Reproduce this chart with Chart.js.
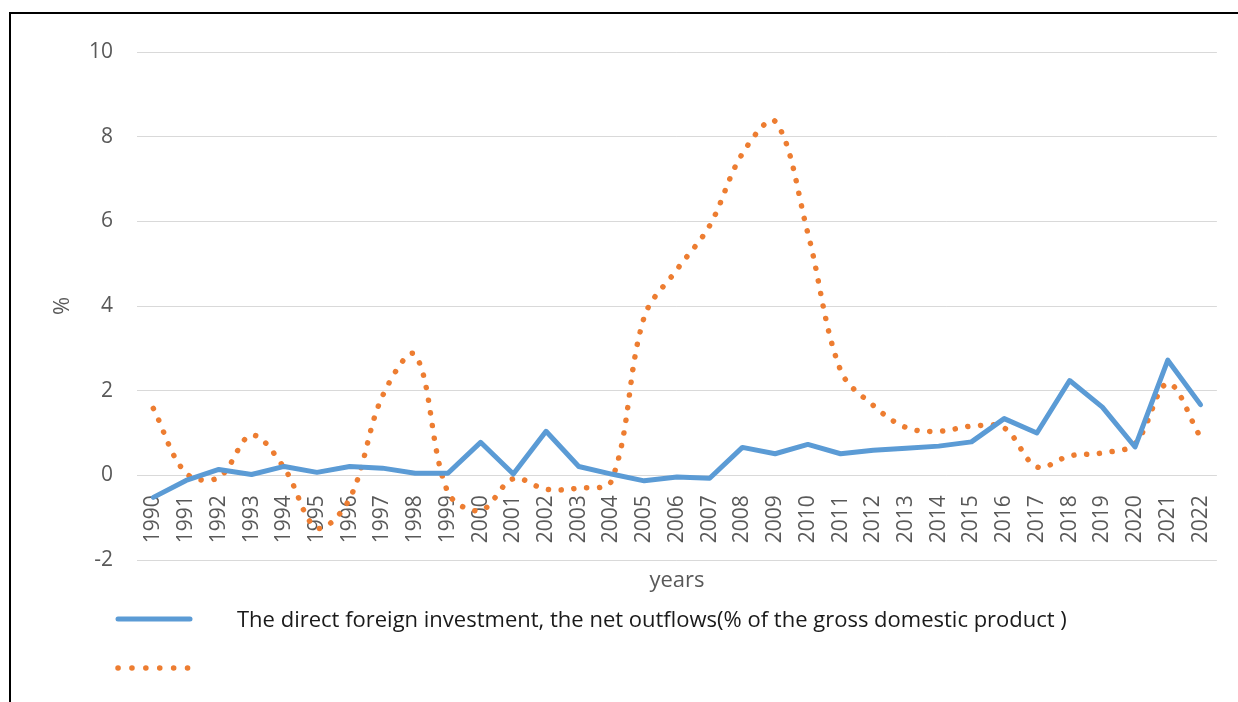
<!DOCTYPE html>
<html>
<head>
<meta charset="utf-8">
<script src="https://cdn.jsdelivr.net/npm/chart.js@4.4.1/dist/chart.umd.min.js"></script>
<style>
  html, body { margin: 0; padding: 0; background: #fff; }
  #wrap { position: relative; width: 1238px; height: 702px; overflow: hidden; }
  #frame { position: absolute; left: 9px; top: 12px; right: -4px; bottom: -4px;
           border-top: 2px solid #000; border-left: 2px solid #000; pointer-events: none; }
  canvas { display: block; }
</style>
</head>
<body>
<div id="wrap">
  <canvas id="c" width="1238" height="702"></canvas>
  <div id="frame"></div>
</div>
<script>
// Years on the category axis
const years = ['1990','1991','1992','1993','1994','1995','1996','1997','1998','1999',
               '2000','2001','2002','2003','2004','2005','2006','2007','2008','2009',
               '2010','2011','2012','2013','2014','2015','2016','2017','2018','2019',
               '2020','2021','2022'];

// FDI net outflows, % of GDP
const fdiOutflows = [-0.52, -0.12, 0.14, 0.02, 0.21, 0.07, 0.21, 0.17, 0.05, 0.05,
                     0.78, 0.03, 1.04, 0.21, 0.03, -0.13, -0.04, -0.07, 0.66, 0.51,
                     0.73, 0.51, 0.59, 0.64, 0.69, 0.79, 1.34, 1.00, 2.24, 1.61,
                     0.67, 2.72, 1.67];

// Second (unlabelled) series, %
const secondSeries = [1.58, 0.05, -0.05, 0.95, 0.17, -1.24, -0.55, 1.87, 2.85, -0.40,
                      -0.83, -0.08, -0.33, -0.30, -0.13, 3.74, 4.86, 5.90, 7.60, 8.36,
                      5.72, 2.48, 1.65, 1.13, 1.04, 1.16, 1.12, 0.20, 0.46, 0.53,
                      0.75, 2.17, 0.90];

const seriesLabels = ['The direct foreign investment, the net outflows(% of the gross domestic product )', ''];

// Y axis range and step
const yMin = -2, yMax = 10, yStep = 2;

const axisGrey = '#595959';

// Legend drawn as stacked rows below the plot
const rowLegend = {
  id: 'rowLegend',
  afterDraw(chart) {
    const ctx = chart.ctx;
    chart.data.datasets.forEach((ds, i) => {
      const y = 619 + i * 49;
      ctx.save();
      ctx.strokeStyle = ds.borderColor;
      ctx.lineWidth = ds.borderWidth;
      ctx.lineCap = ds.borderCapStyle || 'butt';
      ctx.setLineDash(ds.borderDash ? [ds.borderDash[0], 13.8] : []);
      ctx.beginPath();
      ctx.moveTo(118, y);
      ctx.lineTo(190, y);
      ctx.stroke();
      ctx.setLineDash([]);
      if (ds.label) {
        ctx.fillStyle = '#1a1a1a';
        ctx.font = '22px "Open Sans"';
        ctx.textBaseline = 'middle';
        ctx.textAlign = 'left';
        ctx.fillText(ds.label, 237, y + 2);
      }
      ctx.restore();
    });
  }
};

new Chart(document.getElementById('c'), {
  type: 'line',
  data: {
    labels: years,
    datasets: [
      {
        label: seriesLabels[0],
        data: fdiOutflows,
        borderColor: '#5B9BD5',
        borderWidth: 5,
        borderCapStyle: 'round',
        borderJoinStyle: 'round',
        tension: 0,
        pointRadius: 0,
        fill: false
      },
      {
        label: seriesLabels[1],
        data: secondSeries,
        borderColor: '#ED7D31',
        borderWidth: 5.5,
        borderCapStyle: 'round',
        borderDash: [0.1, 12.7],
        tension: 0.35,
        pointRadius: 0,
        fill: false
      }
    ]
  },
  options: {
    responsive: false,
    animation: false,
    layout: { padding: { left: 40, top: 52, right: 18, bottom: 142 } },
    plugins: { legend: { display: false }, tooltip: { enabled: false } },
    scales: {
      x: {
        type: 'category',
        offset: true,
        position: { y: 0 },
        grid: { display: false },
        border: { display: false },
        ticks: {
          minRotation: 90,
          maxRotation: 90,
          autoSkip: false,
          padding: 12,
          color: axisGrey,
          font: { family: 'Open Sans', size: 21 }
        },
        title: {
          display: true,
          text: 'years',
          color: axisGrey,
          padding: 0,
          font: { family: 'Open Sans', size: 22 }
        },
        afterFit(scale) { scale.height = 119; }
      },
      y: {
        min: yMin,
        max: yMax,
        grid: { color: '#D9D9D9', lineWidth: 1, drawTicks: false },
        border: { display: false },
        ticks: {
          stepSize: yStep,
          padding: 24,
          color: axisGrey,
          font: { family: 'Open Sans', size: 21 }
        },
        title: {
          display: true,
          text: '%',
          color: axisGrey,
          padding: { top: 10, bottom: 0 },
          font: { family: 'Open Sans', size: 22 }
        },
        afterFit(scale) { scale.width = 97; }
      }
    }
  },
  plugins: [rowLegend]
});
</script>
</body>
</html>
